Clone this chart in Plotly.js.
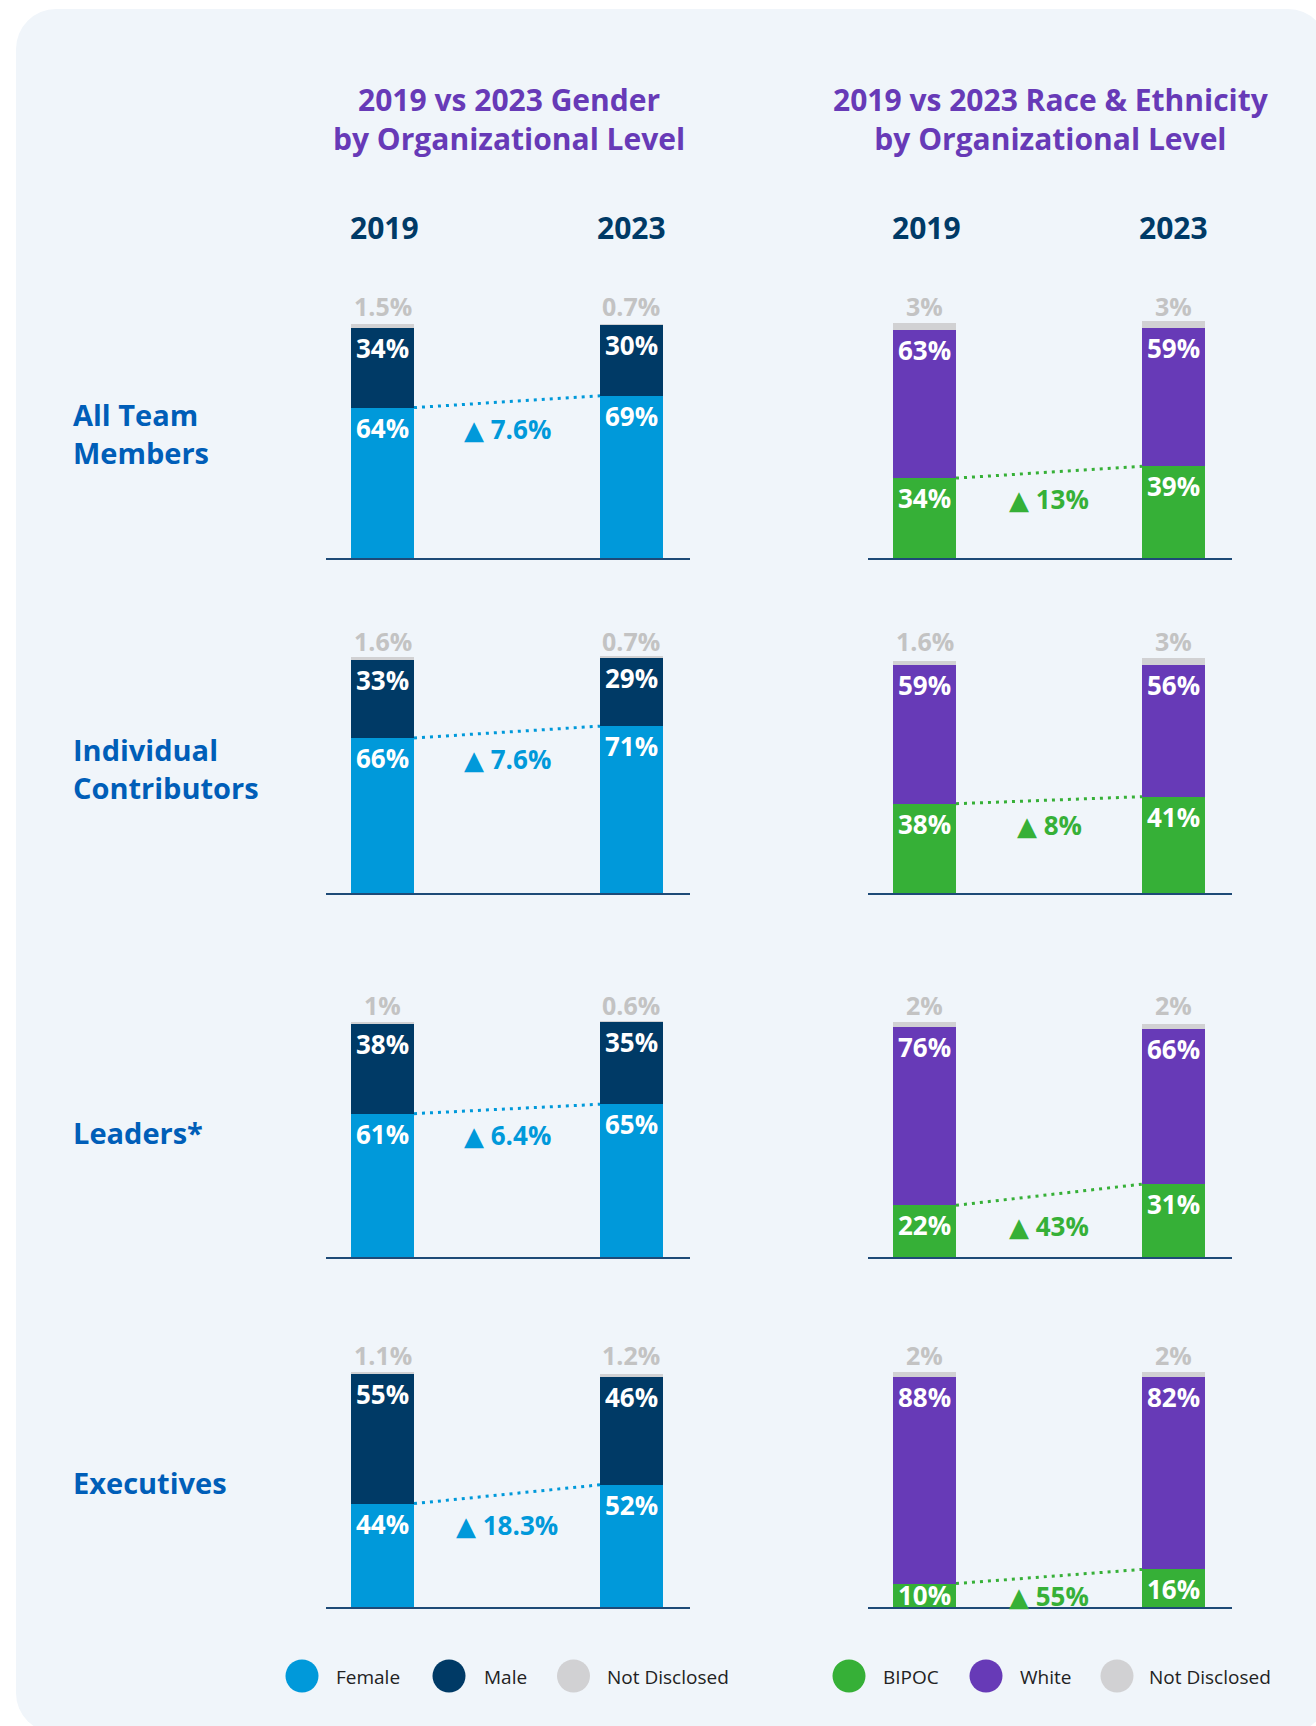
<!DOCTYPE html>
<html><head><meta charset="utf-8">
<script src="https://cdn.plot.ly/plotly-3.0.1.min.js"></script>
<style>
html,body{margin:0;padding:0;background:#ffffff;width:1316px;height:1726px;overflow:hidden;}
#panel{position:absolute;left:16px;top:9px;width:1312px;height:1724px;background:#F0F5FA;border-radius:40px;}
#chart{position:absolute;left:0;top:0;width:1316px;height:1726px;}
</style></head><body>
<div id="panel"></div><div id="chart"></div>
<script>
// ---------------- DATA ----------------
const years = ['2019', '2023'];
const levels = ['All Team<br>Members', 'Individual<br>Contributors', 'Leaders*', 'Executives'];

const genderTitle = '2019 vs 2023 Gender<br>by Organizational Level';
const raceTitle = '2019 vs 2023 Race & Ethnicity<br>by Organizational Level';

const genderSeries = ['Female', 'Male', 'Not Disclosed'];
const female2019 = [64, 66, 61, 44];
const female2023 = [69, 71, 65, 52];
const male2019 = [34, 33, 38, 55];
const male2023 = [30, 29, 35, 46];
const genderND2019 = [1.5, 1.6, 1, 1.1];
const genderND2023 = [0.7, 0.7, 0.6, 1.2];
const genderChange = [7.6, 7.6, 6.4, 18.3];

const raceSeries = ['BIPOC', 'White', 'Not Disclosed'];
const bipoc2019 = [34, 38, 22, 10];
const bipoc2023 = [39, 41, 31, 16];
const white2019 = [63, 59, 76, 88];
const white2023 = [59, 56, 66, 82];
const raceND2019 = [3, 1.6, 2, 2];
const raceND2023 = [3, 3, 2, 2];
const raceChange = [13, 8, 43, 55];

// ---------------- STYLE / LAYOUT ----------------
const W = 1316, H = 1726;
const FONT = 'Open Sans, Noto Sans, DejaVu Sans, sans-serif';
const C = {
  female: '#0099DA', male: '#003A66', nd: '#D1D1D3', ndText: '#C3C3C3',
  bipoc: '#36B037', white: '#673AB7',
  title: '#673AB7', year: '#003A66', rowLabel: '#005EB8', axis: '#1E4A77', legendText: '#222222'
};
const baselines = [558, 893, 1257, 1607];   // pixel baseline of each row
const pxPerPct = 2.35;
const yMax = 102;
const ndLabelLevel = 100;                    // grey labels sit just above the full-scale line
const colX = [[326, 690], [868, 1232]];      // pixel extent of axis lines
const xRange = [-0.227, 1.235];
const barW = 0.253;

function labelOffset(v) {                   // distance (px) from segment top to label centre
  return Math.min(20, v * pxPerPct - 12);
}

const cols = [
  { title: genderTitle, titleX: 509, names: genderSeries,
    colors: [C.female, C.male, C.nd],
    s2019: [female2019, male2019, genderND2019], s2023: [female2023, male2023, genderND2023],
    change: genderChange,
    legendCircles: [302, 449, 573.5], legendText: [334, 482, 605] },
  { title: raceTitle, titleX: 1051, names: raceSeries,
    colors: [C.bipoc, C.white, C.nd],
    s2019: [bipoc2019, white2019, raceND2019], s2023: [bipoc2023, white2023, raceND2023],
    change: raceChange,
    legendCircles: [849, 986, 1117], legendText: [881, 1018, 1147] }
];

const data = [];
const annotations = [];
const shapes = [];
const layout = {
  width: W, height: H, autosize: false,
  margin: { l: 0, r: 0, t: 0, b: 0, pad: 0 },
  paper_bgcolor: 'rgba(0,0,0,0)', plot_bgcolor: 'rgba(0,0,0,0)',
  barmode: 'stack', showlegend: false, hovermode: false,
  font: { family: FONT }
};

const xPos = years.map((_, i) => i);

levels.forEach((lvl, r) => {
  const b = baselines[r];
  const dom = [1 - b / H, 1 - (b - pxPerPct * yMax) / H];
  cols.forEach((col, c) => {
    const k = r * 2 + c + 1;
    const xa = 'x' + k, ya = 'y' + k;
    const xKey = k === 1 ? 'xaxis' : 'xaxis' + k;
    const yKey = k === 1 ? 'yaxis' : 'yaxis' + k;
    layout[xKey] = {
      domain: [colX[c][0] / W, colX[c][1] / W], range: xRange, anchor: ya,
      showgrid: false, zeroline: false, showticklabels: false, ticks: '',
      showline: true, linecolor: C.axis, linewidth: 2, fixedrange: true
    };
    layout[yKey] = { domain: dom, range: [0, yMax], anchor: xa, visible: false, fixedrange: true };

    // stacked bars
    const cum = [0, 0];
    col.names.forEach((nm, s) => {
      const ys = [col.s2019[s][r], col.s2023[s][r]];
      data.push({
        type: 'bar', x: xPos, y: ys, width: barW, name: nm,
        xaxis: xa, yaxis: ya,
        marker: { color: col.colors[s], line: { width: 0 } },
        hoverinfo: 'skip', showlegend: false
      });
      ys.forEach((v, i) => {
        cum[i] += v;
        if (s < 2) {
          annotations.push({
            xref: xa, yref: ya, x: i, y: cum[i], text: v + '%',
            showarrow: false, xanchor: 'center', yanchor: 'middle', yshift: -labelOffset(v),
            font: { family: FONT, size: 26, color: '#FFFFFF', weight: 700 }
          });
        } else {
          annotations.push({
            xref: xa, yref: ya, x: i, y: ndLabelLevel, text: v + '%',
            showarrow: false, xanchor: 'center', yanchor: 'middle', yshift: 17,
            font: { family: FONT, size: 25, color: C.ndText, weight: 700 }
          });
        }
      });
    });

    // dotted connector between the two lower segments
    data.push({
      type: 'scatter', mode: 'lines', xaxis: xa, yaxis: ya,
      x: [xPos[0] + barW / 2, xPos[1] - barW / 2],
      y: [col.s2019[0][r], col.s2023[0][r]],
      line: { color: col.colors[0], width: 3, dash: '3px,5px' },
      hoverinfo: 'skip', showlegend: false
    });

    // change annotation
    annotations.push({
      xref: xa, yref: ya, x: (xPos[0] + xPos[1]) / 2, y: col.s2019[0][r],
      text: '▲ ' + col.change[r] + '%', showarrow: false,
      xanchor: 'center', yanchor: 'middle', yshift: -labelOffset(col.s2019[0][r]) - 1,
      font: { family: FONT, size: 26, color: col.colors[0], weight: 700 }
    });

    // year headers above first row
    if (r === 0) {
      years.forEach((yr, i) => {
        annotations.push({
          xref: xa, yref: 'paper', x: i, y: 1 - 227 / H, text: yr,
          showarrow: false, xanchor: 'center', yanchor: 'middle', xshift: i === 0 ? 2 : 0,
          font: { family: FONT, size: 30, color: C.year, weight: 700 }
        });
      });
    }
  });
  // row label
  annotations.push({
    xref: 'paper', yref: (r === 0 ? 'y' : 'y' + (r * 2 + 1)) + ' domain',
    x: 71 / W, y: 0.5, yshift: 5, text: lvl, showarrow: false,
    xanchor: 'left', yanchor: 'middle', align: 'left',
    font: { family: FONT, size: 29, color: C.rowLabel, weight: 700 }
  });
});

// titles and legends
cols.forEach((col) => {
  annotations.push({
    xref: 'paper', yref: 'paper', x: col.titleX / W, y: 1 - 119 / H,
    text: col.title, showarrow: false, xanchor: 'center', yanchor: 'middle', align: 'center',
    font: { family: FONT, size: 30, color: C.title, weight: 700 }
  });
  col.names.forEach((nm, s) => {
    shapes.push({
      type: 'circle', xref: 'paper', yref: 'paper',
      xsizemode: 'pixel', ysizemode: 'pixel',
      xanchor: col.legendCircles[s] / W, yanchor: 1 - 1676 / H,
      x0: -16.5, x1: 16.5, y0: -16.5, y1: 16.5,
      fillcolor: col.colors[s], line: { width: 0 }
    });
    annotations.push({
      xref: 'paper', yref: 'paper', x: col.legendText[s] / W, y: 1 - 1677 / H,
      text: nm, showarrow: false, xanchor: 'left', yanchor: 'middle',
      font: { family: FONT, size: 19, color: C.legendText }
    });
  });
});

layout.annotations = annotations;
layout.shapes = shapes;

Plotly.newPlot('chart', data, layout, { staticPlot: true, displayModeBar: false });
</script>
</body></html>
